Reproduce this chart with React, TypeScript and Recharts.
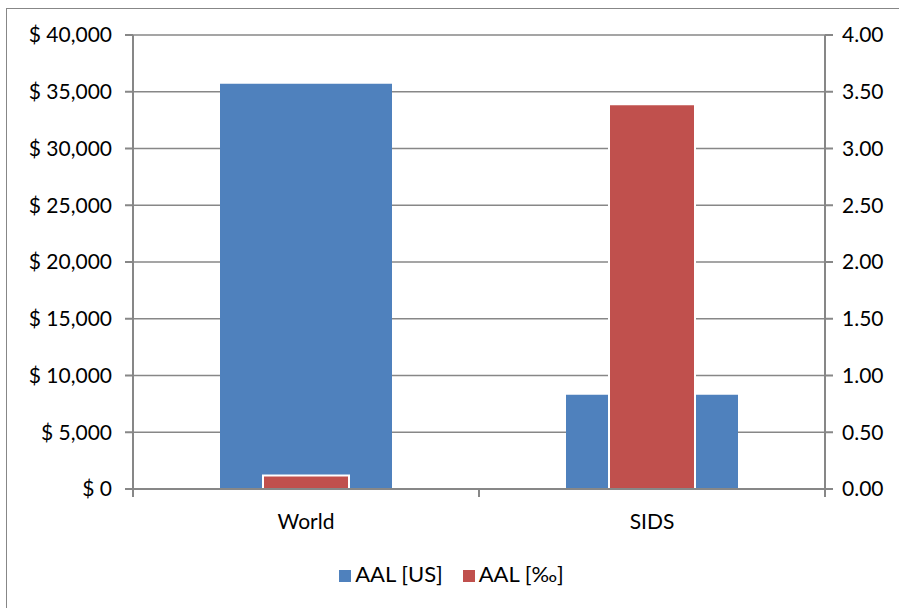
import React from 'react';
import {
  BarChart,
  Bar,
  XAxis,
  YAxis,
  CartesianGrid,
  Legend
} from 'recharts';

const categories = ['World', 'SIDS'];
const aalUsd = [35700, 8300];
const aalPermil = [0.12, 3.39];
const usdTicks = [0, 5000, 10000, 15000, 20000, 25000, 30000, 35000, 40000];
const permilTicks = [0, 0.5, 1, 1.5, 2, 2.5, 3, 3.5, 4];

const data = categories.map((name, i) => ({
  name,
  usd: aalUsd[i],
  permil: aalPermil[i]
}));

const FONT = 'Lato, "Open Sans", sans-serif';
const GREY = '#878787';
const FS = 21;

const CategoryTick = (props: any) => {
  const { x, y, payload, index } = props;
  const half = payload && payload.offset ? payload.offset : 173;
  return (
    <g>
      <line x1={x - half} y1={y - 8} x2={x - half} y2={y} stroke={GREY} strokeWidth={2} />
      {index === categories.length - 1 && (
        <line x1={x + half} y1={y - 8} x2={x + half} y2={y} stroke={GREY} strokeWidth={2} />
      )}
      <text x={x} y={y + 32} textAnchor="middle" fill="#000" fontSize={FS} fontFamily={FONT}>
        {payload.value}
      </text>
    </g>
  );
};

const App: React.FC = () => {
  return (
    <div
      style={{
        position: 'absolute',
        left: 6,
        top: 8,
        width: 900,
        height: 610,
        borderLeft: `1px solid ${GREY}`,
        borderTop: `1px solid ${GREY}`,
        background: '#fff'
      }}
    >
      <BarChart
        width={893}
        height={599}
        data={data}
        margin={{ top: 26, right: 0, left: 0, bottom: 39 }}
      >
        <CartesianGrid vertical={false} stroke={GREY} strokeWidth={1.5} yAxisId="left" />
        <XAxis
          xAxisId="a"
          dataKey="name"
          axisLine={{ stroke: GREY, strokeWidth: 2 }}
          tickLine={false}
          tick={<CategoryTick />}
          height={40}
          interval={0}
        />
        <XAxis xAxisId="b" dataKey="name" hide />
        <YAxis
          yAxisId="left"
          width={126}
          domain={[0, 40000]}
          ticks={usdTicks}
          tickFormatter={(v: number) => `$ ${v.toLocaleString('en-US')}`}
          axisLine={{ stroke: GREY, strokeWidth: 2 }}
          tickLine={{ stroke: GREY, strokeWidth: 2 }}
          tickSize={8}
          tickMargin={13}
          tick={{ fill: '#000', fontSize: FS, fontFamily: FONT }}
        />
        <YAxis
          yAxisId="right"
          orientation="right"
          width={75}
          domain={[0, 4]}
          ticks={permilTicks}
          tickFormatter={(v: number) => v.toFixed(2)}
          axisLine={{ stroke: GREY, strokeWidth: 2 }}
          tickLine={{ stroke: GREY, strokeWidth: 2 }}
          tickSize={8}
          tickMargin={9}
          tick={{ fill: '#000', fontSize: FS, fontFamily: FONT }}
        />
        <Legend
          verticalAlign="bottom"
          height={40}
          iconType="square"
          iconSize={12}
          wrapperStyle={{ top: 551, fontFamily: FONT, fontSize: 22, paddingLeft: 8 }}
          formatter={(value: string) => (
            <span style={{ color: '#000', marginRight: 10 }}>{value}</span>
          )}
        />
        <Bar
          name="AAL [US]"
          dataKey="usd"
          xAxisId="a"
          yAxisId="left"
          fill="#4F81BD"
          barSize={172}
          isAnimationActive={false}
        />
        <Bar
          name="AAL [‰]"
          dataKey="permil"
          xAxisId="b"
          yAxisId="right"
          fill="#C0504D"
          stroke="#fff"
          strokeWidth={2}
          barSize={86}
          isAnimationActive={false}
        />
      </BarChart>
    </div>
  );
};

export default App;
